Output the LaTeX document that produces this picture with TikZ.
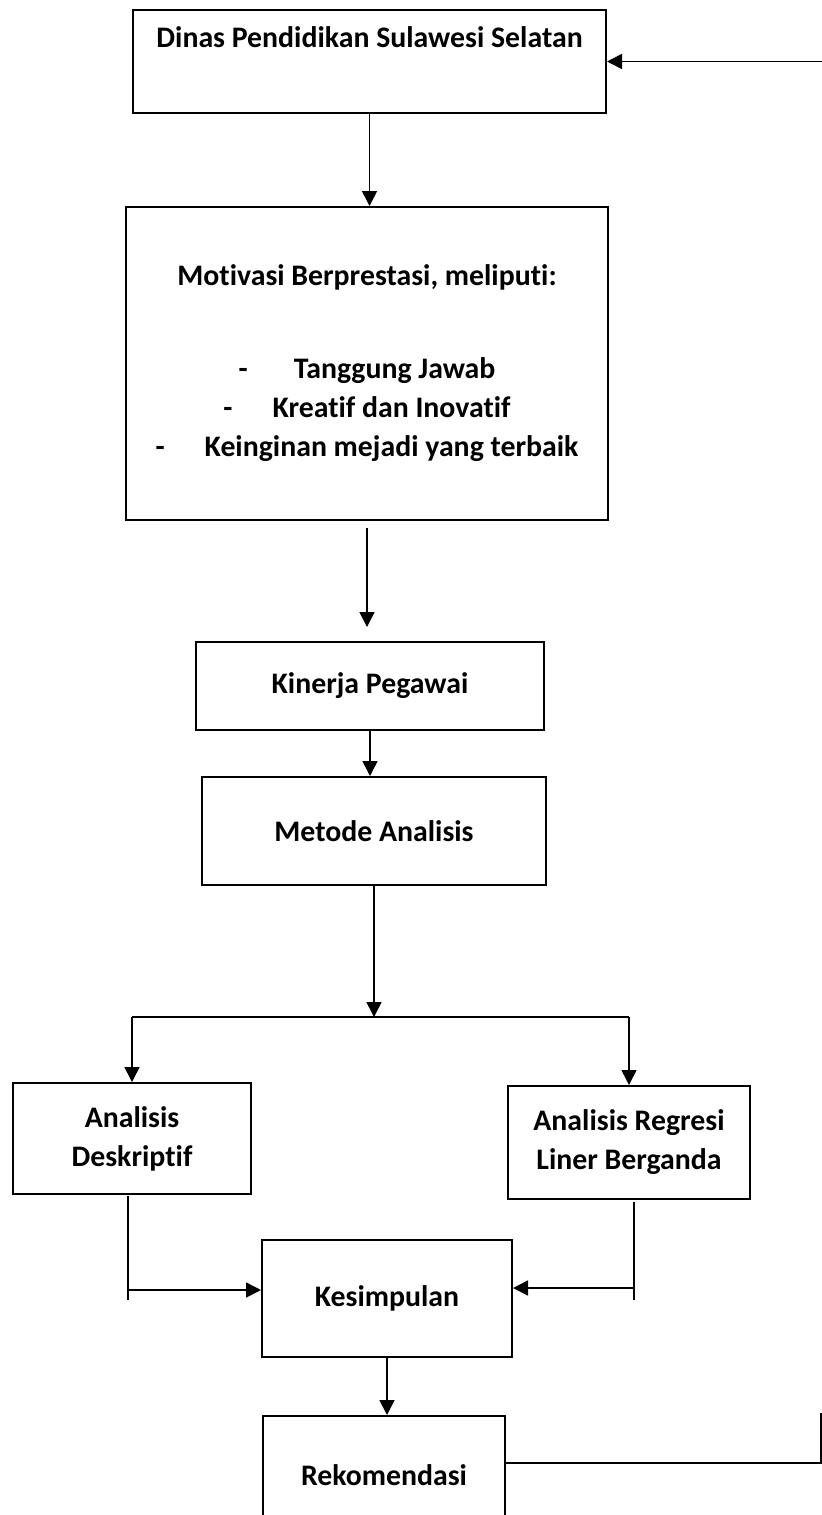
\documentclass[tikz,border=0pt]{standalone}
\usepackage{fontspec}
\setmainfont{Carlito}[RawFeature={-liga}]
\usetikzlibrary{arrows.meta}
\tikzset{
  flowbox/.style={
    rectangle, draw=black, line width=1pt, inner sep=0pt, align=center,
    font=\fontsize{14.9}{19.5}\selectfont\bfseries
  },
  flowline/.style={line width=0.8pt},
  flowarrow/.style={flowline, -{Triangle[length=7.5pt,width=7.5pt]}}
}

\begin{document}
\begin{tikzpicture}[x=0.5pt, y=-0.5pt]
\useasboundingbox (0,0) rectangle (822,1515);
\clip (0,0) rectangle (822,1515);

\node[flowbox, minimum width=236.5pt, text height=18.5pt, text depth=33pt] (dinas) at (369.5,61.5) {Dinas Pendidikan Sulawesi Selatan};
\node[flowbox, minimum width=241pt, minimum height=156.5pt] (motiv) at (367,363.5) {Motivasi Berprestasi, meliputi:\\[27pt] -\hspace{23pt}Tanggung Jawab\\ -\hspace{20pt}Kreatif dan Inovatif\\ -\hspace{20pt}Keinginan mejadi yang terbaik};
\node[flowbox, minimum width=174pt, minimum height=44pt] (kinerja) at (370,686) {Kinerja Pegawai};
\node[flowbox, minimum width=172pt, minimum height=54pt] (metode) at (374,831) {Metode Analisis};
\node[flowbox, minimum width=119pt, minimum height=55.5pt] (deskr) at (132,1138.5) {Analisis\\Deskriptif};
\node[flowbox, minimum width=121pt, minimum height=56.5pt] (regresi) at (629,1142.5) {Analisis Regresi\\Liner Berganda};
\node[flowbox, minimum width=125pt, minimum height=58.5pt] (kesimp) at (387,1298.5) {Kesimpulan};
\node[flowbox, minimum width=121pt, minimum height=59pt] (rekom) at (384,1475) {Rekomendasi};

\coordinate (split) at (374,1017);
\coordinate (dtop) at (128,1196);
\coordinate (dmid) at (128,1290);
\coordinate (dbot) at (128,1300);
\coordinate (rtop) at (634,1202);
\coordinate (rmid) at (634,1288);
\coordinate (rbot) at (634,1300);
\coordinate (fbT) at (822,61.5);
\coordinate (fbB) at (821,1463);
\coordinate (fbV) at (821,1413);

\draw[flowarrow] (dinas.south) -- (dinas.south |- motiv.north);
\draw[flowarrow, shorten <=3.5pt, shorten >=7pt] (motiv.south) -- (motiv.south |- kinerja.north);
\draw[flowarrow] (kinerja.south) -- (kinerja.south |- metode.north);
\draw[flowarrow] (metode.south) -- (metode.south |- split);
\draw[flowline] (deskr.north |- split) -- (regresi.north |- split);
\draw[flowarrow] (deskr.north |- split) -- (deskr.north);
\draw[flowarrow] (regresi.north |- split) -- (regresi.north);
\draw[flowline] (dtop) -- (dbot);
\draw[flowarrow] (dmid) -- (dmid -| kesimp.west);
\draw[flowline] (rtop) -- (rbot);
\draw[flowarrow] (rmid) -- (rmid -| kesimp.east);
\draw[flowarrow] (kesimp.south) -- (kesimp.south |- rekom.north);
\draw[flowline] (rekom.east |- fbB) -- (fbB) -- (fbV);
\draw[flowarrow] (fbT) -- (dinas.east);
\end{tikzpicture}
\end{document}
